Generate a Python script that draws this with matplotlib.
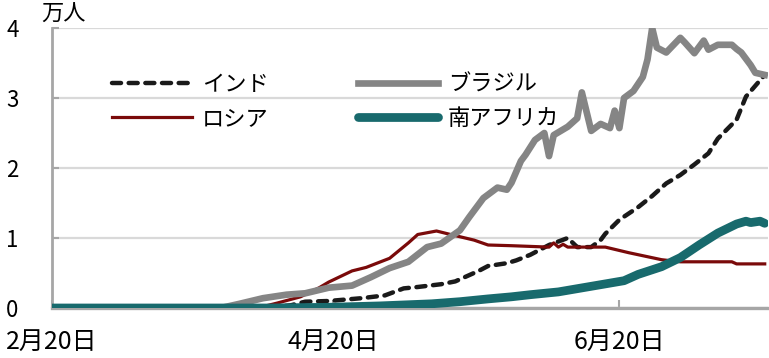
import matplotlib
matplotlib.use('Agg')
import matplotlib.pyplot as plt

plt.rcParams['font.family'] = ['Noto Sans CJK JP', 'DejaVu Sans']
plt.rcParams['lines.scale_dashes'] = False

# days since 2020-02-20, daily new cases in 万人
india_d = [0, 46, 51, 54, 59, 66, 71, 75, 78, 83, 86, 88, 91, 93, 97, 99, 102, 106, 110, 112,
           115, 117, 118, 121, 125, 128, 131, 134, 137, 140, 142, 146, 148, 152]
india_v = [0, 0, 0.04, 0.09, 0.10, 0.14, 0.18, 0.28, 0.30, 0.34, 0.38, 0.44, 0.53, 0.60, 0.64, 0.68,
           0.76, 0.90, 1.00, 0.87, 0.87, 0.97, 1.06, 1.26, 1.44, 1.60, 1.78, 1.90, 2.05, 2.21, 2.42,
           2.69, 3.02, 3.33]

russia_d = [0, 40, 45, 48, 53, 57, 59, 64, 67, 72, 76, 78, 82, 85, 90, 93, 98, 106, 107, 108,
            109, 110, 118, 123, 130, 134, 145, 146, 152]
russia_v = [0, 0, 0.02, 0.07, 0.16, 0.29, 0.37, 0.53, 0.58, 0.71, 0.93, 1.05, 1.10, 1.05, 0.97,
            0.90, 0.89, 0.87, 0.93, 0.87, 0.91, 0.87, 0.87, 0.79, 0.69, 0.66, 0.66, 0.63, 0.63]

brazil_d = [0, 36, 40, 45, 50, 54, 59, 64, 68, 72, 76, 80, 83, 87, 89, 92, 95, 97, 98, 100,
            101, 103, 105, 106, 107, 110, 112, 113, 115, 117, 119, 120, 121, 122, 124, 126, 127,
            128, 129, 131, 134, 135, 137, 139, 140, 142, 145, 146, 147, 149, 150, 152]
brazil_v = [0, 0, 0.06, 0.14, 0.19, 0.21, 0.29, 0.32, 0.44, 0.57, 0.66, 0.87, 0.92, 1.11, 1.30,
            1.57, 1.72, 1.69, 1.79, 2.10, 2.19, 2.40, 2.50, 2.17, 2.47, 2.59, 2.71, 3.08, 2.53,
            2.63, 2.57, 2.82, 2.57, 3.00, 3.10, 3.30, 3.55, 4.00, 3.72, 3.65, 3.86, 3.79, 3.64,
            3.82, 3.69, 3.76, 3.76, 3.70, 3.65, 3.47, 3.36, 3.33]

safrica_d = [0, 46, 59, 70, 81, 87, 93, 98, 102, 108, 115, 122, 125, 130, 134, 138, 142, 146,
             148, 149, 151, 152]
safrica_v = [0, 0, 0.01, 0.03, 0.06, 0.09, 0.13, 0.16, 0.19, 0.23, 0.31, 0.39, 0.48, 0.59, 0.72,
             0.90, 1.07, 1.20, 1.24, 1.22, 1.24, 1.21]

xticks = [0, 60, 121]
xlabels = ['2月20日', '4月20日', '6月20日']

fig = plt.figure(figsize=(7.69, 3.58), dpi=100)
ax = fig.add_axes([52 / 769, 50 / 358, 716 / 769, 280 / 358])

ax.plot(india_d, india_v, color='#1a1a1a', lw=3.2, dashes=(6.5, 5.5),
        dash_capstyle='round', label='インド', zorder=3)
ax.plot(russia_d, russia_v, color='#7a0a0a', lw=2.3, label='ロシア', zorder=4)
ax.plot(brazil_d, brazil_v, color='#858585', lw=4.8, label='ブラジル', zorder=5)
ax.plot(safrica_d, safrica_v, color='#186a6d', lw=6.3, label='南アフリカ', zorder=6,
        solid_capstyle='round')

ax.set_xlim(0, 152.7)
ax.set_ylim(0, 4)
ax.set_yticks([0, 1, 2, 3, 4])
ax.set_yticklabels(['0', '1', '2', '3', '4'], fontsize=16)
ax.set_xticks(xticks)
ax.set_xticklabels(xlabels, fontsize=18)
ax.grid(axis='y', color='#d9d9d9', lw=1.6)
ax.set_axisbelow(True)

for s in ['top', 'right']:
    ax.spines[s].set_visible(False)
ax.spines['left'].set_color('#a6a6a6')
ax.spines['left'].set_linewidth(2)
ax.spines['bottom'].set_color('#a6a6a6')
ax.spines['bottom'].set_linewidth(2.4)
ax.tick_params(axis='y', direction='in', length=5, width=1.5, color='#a6a6a6', pad=24)
ax.tick_params(axis='x', direction='in', length=6, width=1.5, color='#a6a6a6', pad=15)

ax.legend(ncol=2, frameon=False, fontsize=16, loc='upper left',
          bbox_to_anchor=(0.084, 0.84), borderaxespad=0, borderpad=0,
          handlelength=3.6, handletextpad=0.45, columnspacing=4.0, labelspacing=0.5)

fig.text(64 / 769, 1 - 14 / 358, '万人', fontsize=16, ha='center', va='center')

fig.savefig('out.png', dpi=100)
